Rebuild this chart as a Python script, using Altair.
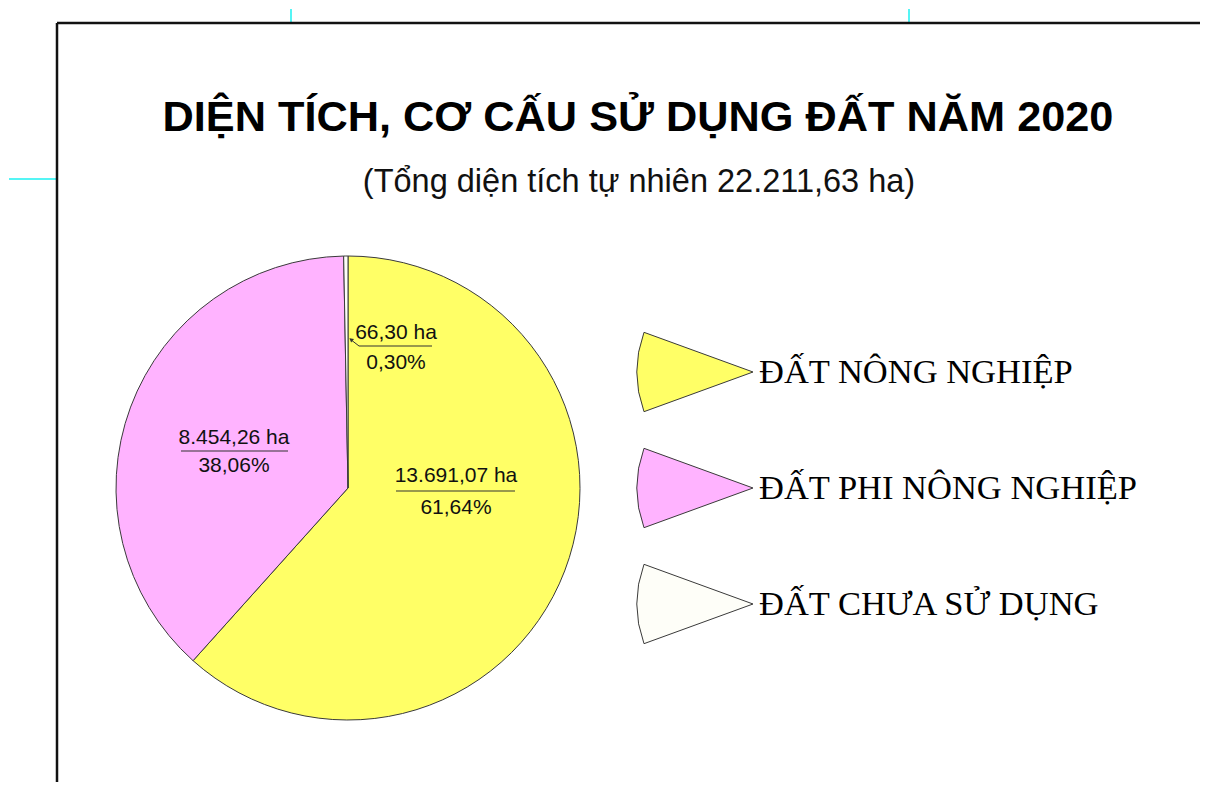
import math
import altair as alt
import pandas as pd

# ---- data ----
categories = ["ĐẤT NÔNG NGHIỆP", "ĐẤT PHI NÔNG NGHIỆP", "ĐẤT CHƯA SỬ DỤNG"]
areas_ha = [13691.07, 8454.26, 66.30]
colors = ["#FFFF66", "#FFB3FF", "#FEFEF8"]
title_text = "DIỆN TÍCH, CƠ CẤU SỬ DỤNG ĐẤT NĂM 2020"
subtitle_text = "(Tổng diện tích tự nhiên 22.211,63 ha)"

total = sum(areas_ha)


def vn_num(v):
    s = f"{v:,.2f}"
    return s.replace(",", "X").replace(".", ",").replace("X", ".")


pie_df = pd.DataFrame({
    "cat": categories,
    "area": areas_ha,
    "idx": list(range(len(categories))),
})

# ---- layout (page px -> chart px: minus 8px page margin) ----
M = 8
CX, CY, R = 347 - M, 487 - M, 232

label_layout = [
    dict(x=455, y1=475, y2=507, ux1=395, ux2=514, uy=490),
    dict(x=233, y1=437, y2=465, ux1=180, ux2=287, uy=450),
    dict(x=395, y1=332, y2=362, ux1=358, ux2=431, uy=345),
]

lab_rows, ul_rows = [], []
for a, L in zip(areas_ha, label_layout):
    lab_rows.append(dict(t=f"{vn_num(a)} ha", x=L["x"] - M, y=L["y1"] - M))
    lab_rows.append(dict(t=f"{vn_num(a / total * 100)}%", x=L["x"] - M, y=L["y2"] - M))
    ul_rows.append(dict(x=L["ux1"] - M, x2=L["ux2"] - M, y=L["uy"] - M))
lab_df = pd.DataFrame(lab_rows)
ul_df = pd.DataFrame(ul_rows)

legend_y = [371 - M, 487 - M, 603 - M]

color_scale = alt.Scale(domain=categories, range=colors)

# ---- pie ----
pie = alt.Chart(pie_df).mark_arc(radius=R, stroke="#3a3a3a", strokeWidth=1).encode(
    theta=alt.Theta("area:Q", stack=True),
    color=alt.Color("cat:N", scale=color_scale, legend=None),
    order=alt.Order("idx:Q"),
    x=alt.value(CX),
    y=alt.value(CY),
)

labels = alt.Chart(lab_df).mark_text(
    font="Liberation Sans", fontSize=21, color="#111", baseline="middle", align="center"
).encode(x=alt.X("x:Q", scale=None), y=alt.Y("y:Q", scale=None), text="t:N")

underlines = alt.Chart(ul_df).mark_rule(color="#333", strokeWidth=1.2).encode(
    x=alt.X("x:Q", scale=None), x2="x2:Q", y=alt.Y("y:Q", scale=None)
)

leader = alt.Chart(ul_df.iloc[[2]]).mark_rule(color="#333", strokeWidth=1).encode(
    x=alt.value(358 - M), x2=alt.value(349 - M), y=alt.value(345 - M), y2=alt.value(338 - M)
)
arrowhead = alt.Chart(ul_df.iloc[[2]]).mark_point(
    shape="triangle-left", size=22, filled=True, color="#333", angle=38, opacity=1
).encode(x=alt.value(350 - M), y=alt.value(338.5 - M))

# ---- legend (wedges pointing right) ----
leg_layers = []
for i, (c, col) in enumerate(zip(categories, colors)):
    d = pd.DataFrame({"cat": [c]})
    w = alt.Chart(d).mark_arc(
        radius=116, theta=math.radians(250), theta2=math.radians(290),
        stroke="#3a3a3a", strokeWidth=1, fill=col
    ).encode(x=alt.value(752 - M), y=alt.value(legend_y[i]))
    t = alt.Chart(d).mark_text(
        font="Liberation Serif", fontSize=34.5, align="left", baseline="middle", color="#000"
    ).encode(x=alt.value(758 - M), y=alt.value(legend_y[i] + 1), text="cat:N")
    leg_layers += [w, t]

# ---- titles ----
one = pie_df.iloc[[0]]
title = alt.Chart(one).mark_text(
    text=title_text, font="Liberation Sans", fontWeight="bold", fontSize=43.3,
    align="center", baseline="middle", color="#000"
).encode(x=alt.value(637 - M), y=alt.value(117 - M))
subtitle = alt.Chart(one).mark_text(
    text=subtitle_text, font="Liberation Sans", fontSize=32.5,
    align="center", baseline="middle", color="#111"
).encode(x=alt.value(638 - M), y=alt.value(181 - M))

# ---- frame & guide lines ----
frame_top = alt.Chart(one).mark_rule(color="#111", strokeWidth=2.5).encode(
    x=alt.value(56 - M), x2=alt.value(1200), y=alt.value(22 - M)
)
frame_left = alt.Chart(one).mark_rule(color="#111", strokeWidth=2.5).encode(
    x=alt.value(56 - M), y=alt.value(22 - M), y2=alt.value(790)
)
g1 = alt.Chart(one).mark_rule(color="#55F5F5", strokeWidth=2).encode(
    x=alt.value(290 - M), y=alt.value(0), y2=alt.value(21 - M)
)
g2 = alt.Chart(one).mark_rule(color="#55F5F5", strokeWidth=2).encode(
    x=alt.value(908 - M), y=alt.value(0), y2=alt.value(21 - M)
)
g3 = alt.Chart(one).mark_rule(color="#55F5F5", strokeWidth=2).encode(
    x=alt.value(0), x2=alt.value(55 - M), y=alt.value(178 - M)
)

chart = alt.layer(
    g1, g2, g3, frame_top, frame_left,
    pie, underlines, leader, arrowhead, labels,
    *leg_layers, title, subtitle,
).properties(
    width=1192, height=774, padding=0,
    autosize=alt.AutoSizeParams(type="fit", contains="padding"),
).configure_view(stroke=None)

chart.save("out.html", embed_options={"renderer": "svg", "actions": False})
